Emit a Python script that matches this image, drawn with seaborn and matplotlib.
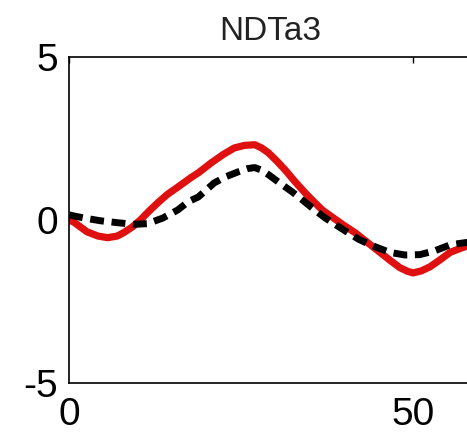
import pandas as pd
import matplotlib
matplotlib.use('Agg')
import matplotlib.pyplot as plt
import seaborn as sns

# valores
x_red = [0, 0.6, 2.6, 4.2, 5.6, 7.0, 7.9, 9.2, 10.4, 11.6, 12.9, 14.3, 15.8, 17.7, 18.8, 20.7,
         22.4, 24.0, 25.5, 27.0, 28.0, 29.0, 30.2, 31.4, 32.8, 34.3, 35.6, 36.8, 37.8, 39.8,
         41.6, 43.4, 45.2, 46.7, 48.1, 49.2, 50.0, 51.2, 52.5, 54.0, 55.4, 57.0, 58.4]
y_red = [-0.02, -0.06, -0.37, -0.5, -0.55, -0.5, -0.4, -0.22, 0.0, 0.26, 0.52, 0.78, 1.0, 1.29, 1.44, 1.75,
         2.0, 2.2, 2.28, 2.3, 2.2, 2.05, 1.8, 1.53, 1.18, 0.83, 0.55, 0.3, 0.15, -0.15,
         -0.4, -0.7, -1.0, -1.25, -1.47, -1.58, -1.63, -1.57, -1.44, -1.22, -1.0, -0.87, -0.77]
x_blk = [0, 0.6, 2.0, 4.5, 7.0, 9.4, 11.4, 13.6, 15.8, 17.3, 18.8, 21.1, 22.8, 24.6, 26.0, 27.0,
         28.0, 29.0, 30.6, 32.4, 33.9, 35.3, 37.2, 38.3, 40.2, 42.2, 44.4, 46.6, 48.8, 51.0,
         53.2, 55.4, 57.0, 58.4]
y_blk = [0.15, 0.12, 0.06, -0.03, -0.09, -0.14, -0.12, 0.05, 0.3, 0.55, 0.7, 1.13, 1.32, 1.47, 1.57, 1.6,
         1.52, 1.38, 1.13, 0.86, 0.61, 0.37, 0.06, -0.09, -0.35, -0.61, -0.82, -1.0, -1.08, -1.07,
         -0.95, -0.77, -0.72, -0.68]

df_red = pd.DataFrame({'x': x_red, 'y': y_red})
df_blk = pd.DataFrame({'x': x_blk, 'y': y_blk})

sns.set_style('white')
plt.rcParams['font.family'] = ['Liberation Sans', 'DejaVu Sans']
plt.rcParams['axes.unicode_minus'] = False
plt.rcParams['text.color'] = 'black'
plt.rcParams['xtick.color'] = 'black'
plt.rcParams['ytick.color'] = 'black'

fig = plt.figure(figsize=(4.67, 4.36), dpi=100)
ax = fig.add_axes([0.148, 0.122, 0.86, 0.748])

sns.lineplot(data=df_blk, x='x', y='y', ax=ax, color='black', linewidth=5,
             linestyle=(0, (2.0, 1.1)), zorder=3, solid_joinstyle='round')
sns.lineplot(data=df_red, x='x', y='y', ax=ax, color='#e01010', linewidth=5.2, zorder=2,
             solid_joinstyle='round', solid_capstyle='round')

ax.set_xlim(0, 58.4)
ax.set_ylim(-5, 5)
ax.set_xticks([0, 50])
ax.set_yticks([-5, 0, 5])
ax.set_xlabel('')
ax.set_ylabel('')
ax.set_title('NDTa3', fontsize=24, pad=12, color='#222222')
ax.tick_params(direction='in', length=4, width=1, top=True, right=False, labelsize=28)
ax.tick_params(axis='x', pad=10)
ax.tick_params(axis='y', pad=8)
for s in ['left', 'bottom', 'top']:
    ax.spines[s].set_color('black')
    ax.spines[s].set_linewidth(1.2)
ax.spines['right'].set_visible(False)

plt.savefig('out.png', dpi=100)
